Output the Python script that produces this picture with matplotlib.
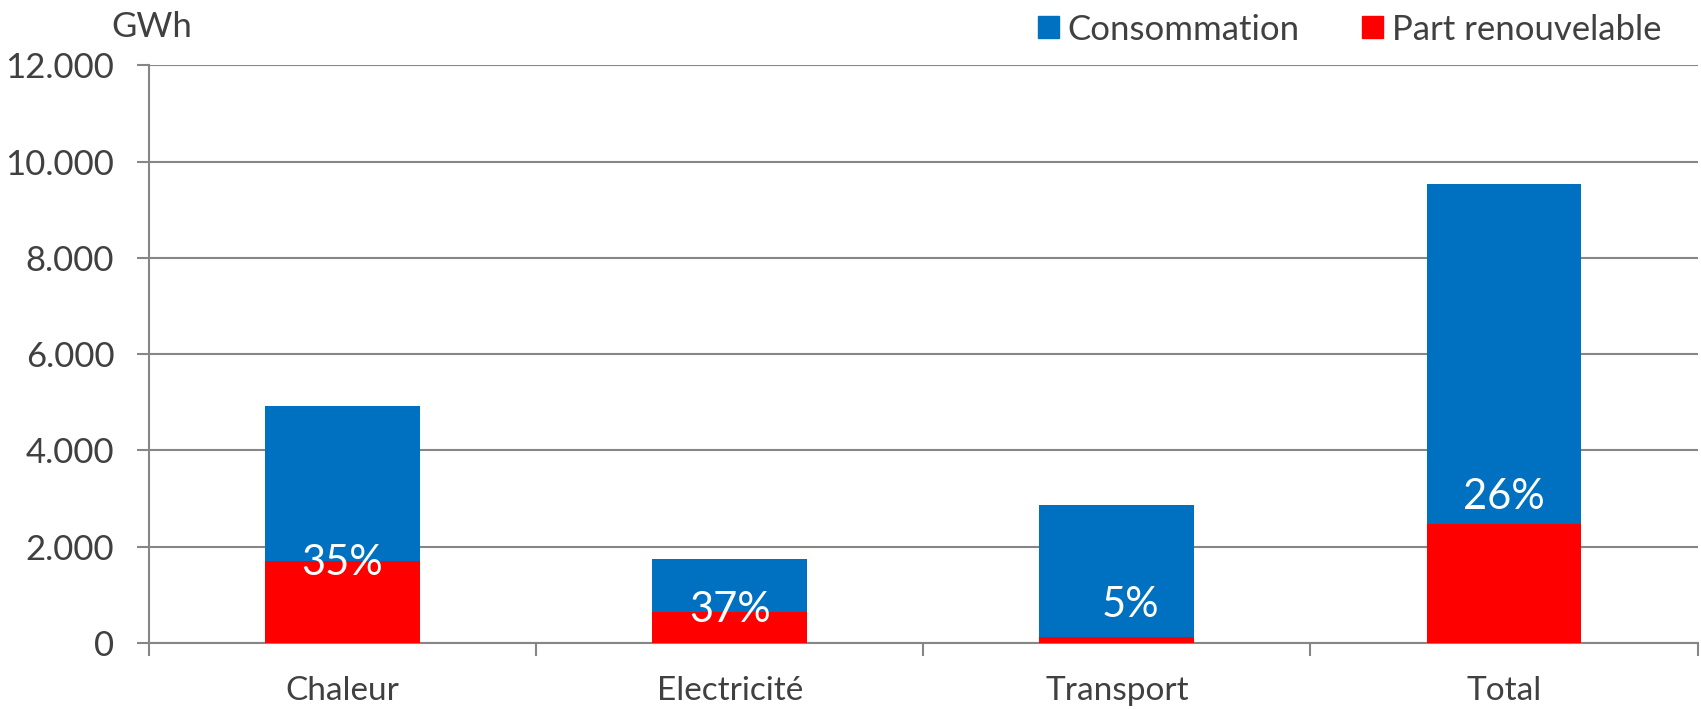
import matplotlib
matplotlib.use("Agg")
from matplotlib import pyplot as plt
from matplotlib.patches import Rectangle
from matplotlib.ticker import FuncFormatter

# data (GWh)
categories = ["Chaleur", "Electricité", "Transport", "Total"]
consommation = [4930, 1740, 2875, 9540]
renouvelable = [1700, 650, 131, 2476]
pct_labels = ["35%", "37%", "5%", "26%"]
y_ticks = [0, 2000, 4000, 6000, 8000, 10000, 12000]

blue = "#0070C0"
red = "#FF0000"
grid_col = "#868686"
txt_col = "#404040"

plt.rcParams["font.family"] = ["Lato", "DejaVu Sans"]

fig = plt.figure(figsize=(17.01, 7.09), dpi=100)
ax = fig.add_axes([0.0876, 0.093, 0.9104, 0.815])

x = list(range(len(categories)))
w = 0.4
ax.bar(x, consommation, width=w, color=blue, zorder=2)
ax.bar(x, renouvelable, width=w, color=red, zorder=3)

# label offsets above the red part, in data units
label_dy = [-40, 30, 650, 550]
label_dx = [0, 0, 0.035, 0]
for i in x:
    ax.text(i + label_dx[i], renouvelable[i] + label_dy[i], pct_labels[i],
            color="white", fontsize=30, ha="center", va="center", zorder=4)

ax.set_xlim(-0.5, len(categories) - 0.5)
ax.set_ylim(0, 12000)
ax.set_yticks(y_ticks)
ax.yaxis.set_major_formatter(FuncFormatter(lambda v, p: "0" if v == 0 else f"{int(v):,}".replace(",", ".")))
ax.set_xticks(x)
ax.set_xticklabels(categories)
ax.set_xticks([i - 0.5 for i in range(len(categories) + 1)], minor=True)

ax.grid(axis="y", color=grid_col, linewidth=1.5, zorder=0)
ax.set_axisbelow(True)
for s in ["top", "right"]:
    ax.spines[s].set_visible(False)
for s in ["left", "bottom"]:
    ax.spines[s].set_color(grid_col)
    ax.spines[s].set_linewidth(1.5)

ax.tick_params(axis="y", length=9, width=1.5, color=grid_col, labelsize=25, labelcolor=txt_col, pad=16)
ax.tick_params(axis="x", which="major", length=0, labelsize=24, labelcolor=txt_col, pad=24)
ax.tick_params(axis="x", which="minor", length=9, width=1.5, color=grid_col)

fig.text(0.089, 0.962, "GWh", fontsize=25, color=txt_col, ha="center", va="center")

handles = [Rectangle((0, 0), 1, 1, color=blue), Rectangle((0, 0), 1, 1, color=red)]
fig.legend(handles, ["Consommation", "Part renouvelable"], loc="upper right",
           bbox_to_anchor=(0.995, 1.025), ncol=2, frameon=False, fontsize=25,
           handlelength=0.6, handleheight=0.6, handletextpad=0.25, columnspacing=1.8,
           labelcolor=txt_col)

fig.savefig("out.png", dpi=100)
